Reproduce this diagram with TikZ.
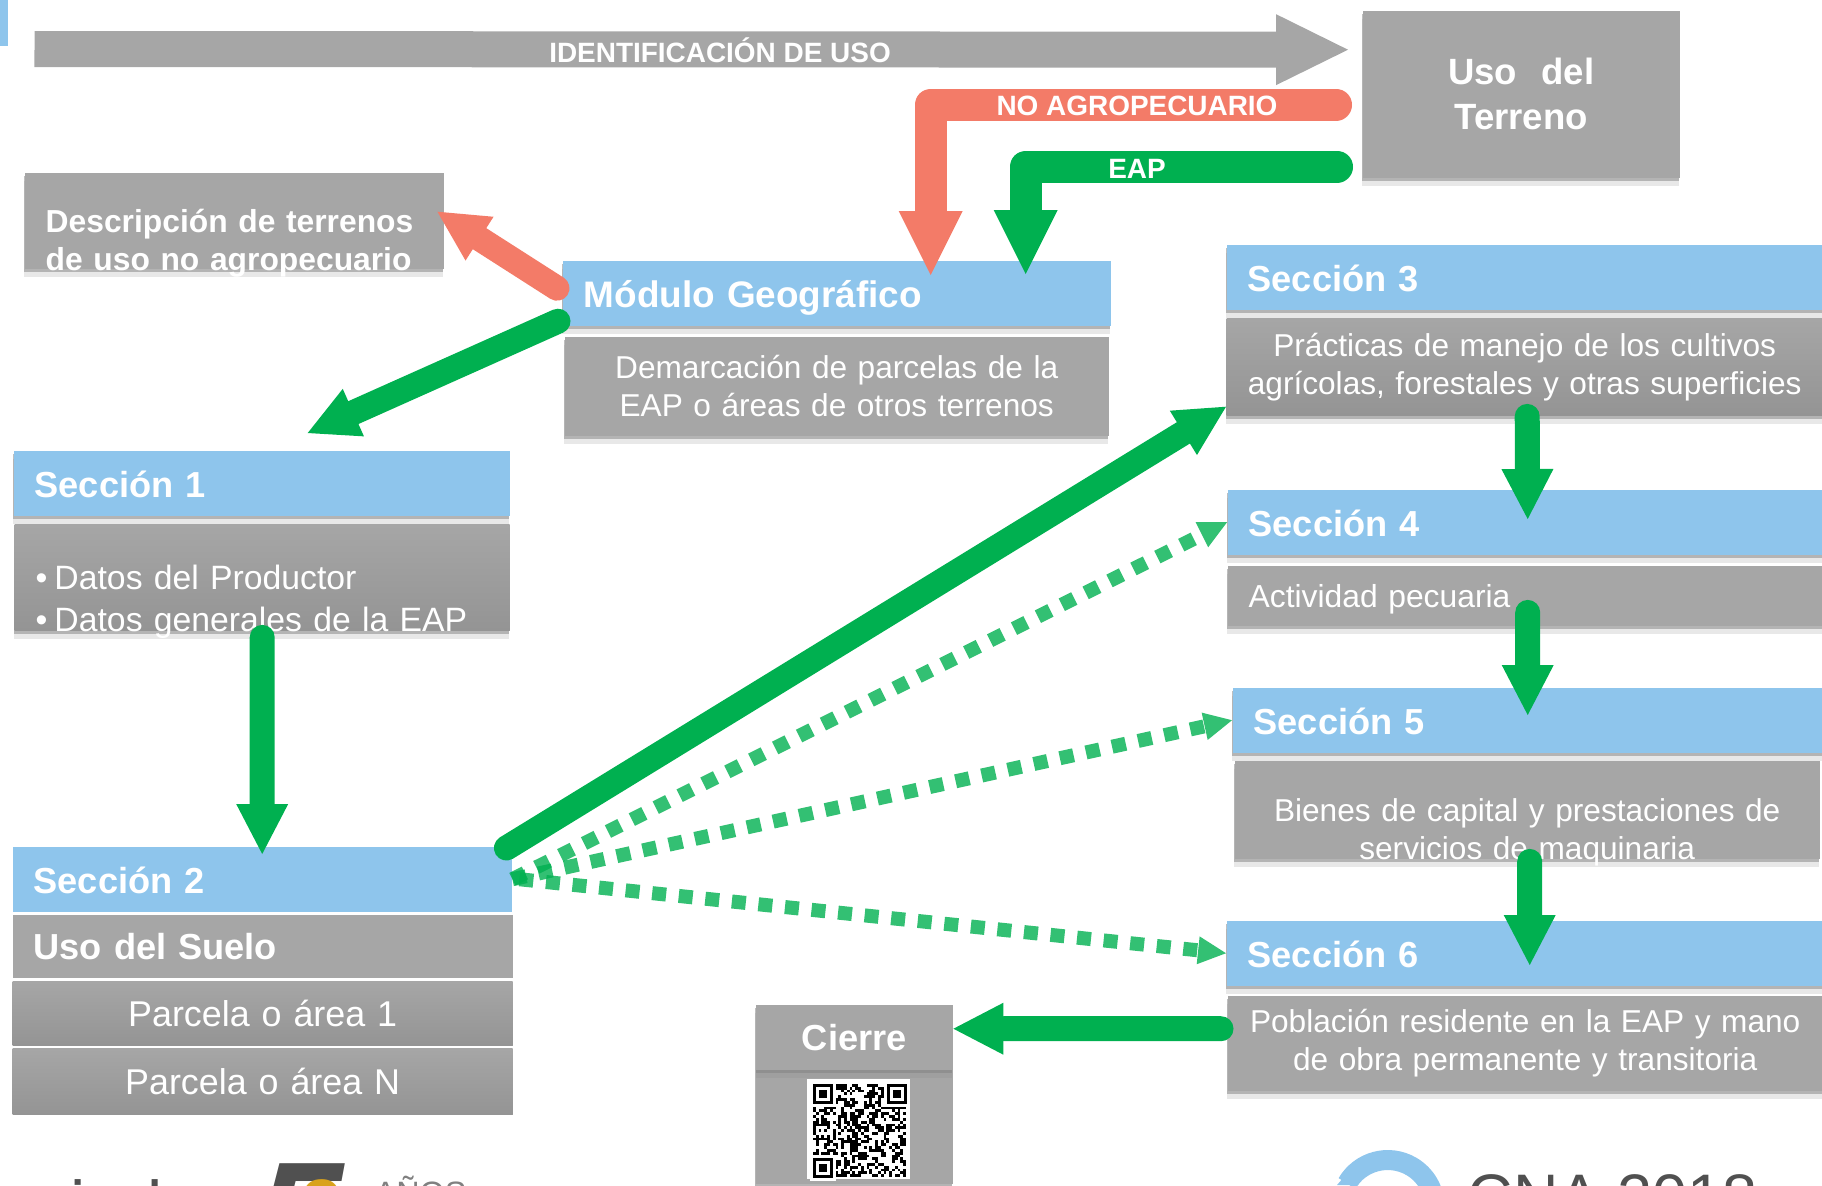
\documentclass[tikz,border=0pt]{standalone}
\usepackage{fontspec}
\setmainfont{Liberation Sans}
\usepackage{tikz}
\usetikzlibrary{arrows.meta}
\usetikzlibrary{shadows}
\definecolor{azul}{HTML}{8EC5EC}
\definecolor{gris}{HTML}{A6A6A6}
\definecolor{grisb}{HTML}{949494}
\definecolor{verde}{HTML}{00B050}
\definecolor{rojo}{HTML}{F37B68}
\definecolor{logo}{HTML}{505050}
\definecolor{oro}{HTML}{D9A21B}
\tikzset{
	sombra/.style={drop shadow={shadow xshift=-.01cm,shadow yshift=-.08cm,opacity=.18},drop shadow={shadow xshift=-.01cm,shadow yshift=-.035cm,opacity=.5}},
	cab/.style={anchor=north west,fill=azul,text=white,font=\fontsize{10.3}{12.5}\selectfont\bfseries,align=left,inner xsep=.21cm,inner ysep=0pt,minimum height=.65cm,text height=.28cm,text depth=0pt,text width=#1cm-.42cm},
	caja/.style={anchor=north west,fill=gris,text=white,font=\fontsize{9}{10.95}\selectfont,align=center,inner xsep=.03cm,inner ysep=0pt,text width=#1cm-.06cm},
	cajai/.style={caja=1,align=left,inner xsep=.21cm,text depth=0pt,text width=#1cm-.42cm},
	degr/.style={top color=gris,bottom color=grisb},
	flecha/.style={line width=.25cm,line cap=round,line join=round,color=verde,-{Triangle[length=.5cm,width=.52cm,line width=0pt]}},
	codo/.style={line width=.32cm,line cap=round,line join=round,-{Triangle[length=.64cm,width=.64cm,line width=0pt]}},
	punteada/.style={line width=.14cm,color=verde,opacity=.8,dash pattern=on .14cm off .127cm,-{Triangle[length=.28cm,width=.28cm,line width=0pt]}},
	rotulo/.style={text=white,font=\fontsize{7.95}{10}\selectfont\bfseries,inner sep=0pt}
}
\begin{document}
\begin{tikzpicture}
		\useasboundingbox (0,0) rectangle (18.22,-11.85);
		\clip (0,0) rectangle (18.22,-11.85);
		\fill[azul] (0,0) rectangle (.08,-.46);
		
		\node (terreno) [caja=3.17,sombra,minimum height=1.67cm,font=\fontsize{10.4}{12.9}\selectfont\bfseries] at (13.62,-.10) {Uso\ \ del\\Terreno};
		\node (desc) [cajai=4.19,sombra,minimum height=.96cm,font=\fontsize{9.05}{10.8}\selectfont\bfseries] at (.24,-1.72) {Descripción de terrenos\\de uso no agropecuario};
		
		\node (mod) [cab=5.48,sombra,font=\fontsize{10.5}{12.5}\selectfont\bfseries] at (5.62,-2.60) {Módulo Geográfico};
		\node (dat0) [caja=5.44,sombra,minimum height=.99cm] at (5.64,-3.36) {Demarcación de parcelas de la\\EAP o áreas de otros terrenos};
		
		\node (sec1) [cab=4.96,sombra] at (.13,-4.50) {Sección 1};
		\node (dat1) [cajai=4.95,sombra,degr,minimum height=1.06cm,font=\fontsize{9.6}{11.9}\selectfont] at (.14,-5.24) {\textbullet\hspace{.07cm}Datos del Productor\\\textbullet\hspace{.07cm}Datos generales de la EAP};
		
		\node (sec2) [cab=4.99] at (.12,-8.46) {Sección 2};
		\node (suelo) [cajai=5.00,minimum height=.63cm,font=\fontsize{10.3}{12.5}\selectfont\bfseries] at (.12,-9.14) {Uso del Suelo};
		\node (par1) [caja=5.00,degr,minimum height=.64cm,font=\fontsize{10.2}{12}\selectfont] at (.12,-9.81) {Parcela o área 1};
		\node (parn) [caja=5.00,degr,minimum height=.66cm,font=\fontsize{10.2}{12}\selectfont] at (.12,-10.48) {Parcela o área N};
		
		\node (sec3) [cab=5.96,sombra] at (12.26,-2.44) {Sección 3};
		\node (dat3) [caja=5.96,sombra,degr,minimum height=.97cm] at (12.26,-3.18) {Prácticas de manejo de los cultivos\\agrícolas, forestales y otras superficies};
		\node (sec4) [cab=5.95,sombra] at (12.27,-4.89) {Sección 4};
		\node (dat4) [cajai=5.95,sombra,minimum height=.60cm,font=\fontsize{9.05}{10.95}\selectfont] at (12.27,-5.65) {Actividad pecuaria};
		\node (sec5) [cab=5.90,sombra] at (12.32,-6.87) {Sección 5};
		\node (dat5) [caja=5.85,sombra,text depth=0pt,minimum height=.98cm] at (12.34,-7.60) {Bienes de capital y prestaciones de\\servicios de maquinaria};
		\node (sec6) [cab=5.96,sombra] at (12.26,-9.20) {Sección 6};
		\node (dat6) [caja=5.95,sombra,minimum height=.95cm] at (12.27,-9.95) {Población residente en la EAP y mano\\de obra permanente y transitoria};
		
		\node (qrfondo) [caja=1.97,sombra,minimum height=1.14cm] at (7.55,-10.69) {};
		\node (cierre) [caja=1.97,sombra,minimum height=.65cm,font=\fontsize{10.3}{12.5}\selectfont\bfseries] at (7.55,-10.04) {Cierre};
		\fill[white] (8.07,-10.79) rectangle (9.10,-11.79);
		\pgfmathsetseed{2018}
		\foreach \i in {0,...,32}
			\foreach \j in {0,...,32}{
				\pgfmathtruncatemacro{\bit}{random(0,1)}
				\ifnum\bit=1
					\fill[black] (8.13+.0282*\i,-10.84-.0282*\j) rectangle +(.0282,-.0282);
				\fi
			}
		\foreach \x/\y in {8.13/-10.84,8.87/-10.84,8.13/-11.58}{
			\fill[white] (\x-.03,\y+.03) rectangle +(.26,-.26);
			\fill[black] (\x,\y) rectangle +(.2,-.2);
			\fill[white] (\x+.03,\y-.03) rectangle +(.14,-.14);
			\fill[black] (\x+.06,\y-.06) rectangle +(.08,-.08);
		}
		
		\coordinate (ini) at (.345,-.49);
		\draw[line width=.36cm,color=gris,-{Triangle[length=.72cm,width=.71cm,line width=0pt]}] (ini) -- ([xshift=-.14cm,yshift=.445cm]terreno.west);
		\node (uso) [rotulo] at (7.20,-.50) {IDENTIFICACIÓN DE USO};
		
		\draw[codo,color=rojo] ([xshift=-.26cm,yshift=-.105cm]terreno.west) -| ([xshift=.94cm,yshift=-.15cm]mod.north);
		\node (noagro) [rotulo] at (11.37,-1.06) {NO AGROPECUARIO};
		\draw[codo,color=verde] ([xshift=-.25cm,yshift=-.725cm]terreno.west) -| ([xshift=1.89cm,yshift=-.14cm]mod.north);
		\node (eap) [rotulo] at (11.37,-1.69) {EAP};
		
		\draw[flecha,color=rojo] ([xshift=-.05cm,yshift=.05cm]mod.west) -- ([xshift=-.07cm,yshift=.09cm]desc.east);
		\draw[flecha] ([xshift=-.04cm,yshift=-.28cm]mod.west) -- ([xshift=.46cm,yshift=.17cm]sec1.north);
		\draw[flecha] ([yshift=-.06cm]dat1.south) -- ([yshift=-.08cm]sec2.north);
		\draw[flecha] ([xshift=-.06cm,yshift=-.02cm]sec2.north east) -- ([yshift=-.395cm]dat3.west);
		\draw[punteada] (sec2.east) -- (sec4.west);
		\draw[punteada] (sec2.east) -- (sec5.west);
		\draw[punteada] ([xshift=.07cm]sec2.east) -- (sec6.west);
		\draw[flecha] ([xshift=.025cm]dat3.south) -- ([xshift=.025cm,yshift=-.30cm]sec4.north);
		\draw[flecha] ([xshift=.025cm,yshift=.14cm]dat4.south) -- ([yshift=-.28cm]sec5.north);
		\draw[flecha] ([xshift=.025cm,yshift=-.02cm]dat5.south) -- ([xshift=.05cm,yshift=-.45cm]sec6.north);
		\draw[flecha] ([xshift=-.06cm,yshift=.145cm]dat6.west) -- ([yshift=.085cm]cierre.east);
		
		\node (indec) [anchor=base west,inner sep=0pt,text=logo,font=\fontsize{19.6}{21}\selectfont] at (.70,-12.29) {indec};
		\node (cinco) [anchor=base west,inner sep=0pt,text=logo,font=\fontsize{45}{47}\selectfont\bfseries\itshape] at (2.55,-12.72) {5};
		\node (cero) [anchor=base west,inner sep=0pt,text=oro,font=\fontsize{24}{26}\selectfont\bfseries] at (2.98,-12.38) {0};
		\node (anos) [anchor=base west,inner sep=0pt,text=gray,font=\fontsize{9.2}{11}\selectfont] at (3.74,-12.04) {AÑOS};
		\draw[line width=.20cm,color=azul] (13.47,-11.835) arc (150:0:.47);
		\fill[azul] (13.37,-11.85) -- (13.43,-11.78) -- (13.62,-11.78) -- (13.58,-11.85) -- cycle;
		\node (cna) [anchor=base west,inner sep=0pt,text=logo,font=\fontsize{17.9}{20}\selectfont] at (14.67,-12.18) {CNA 2018};
	\end{tikzpicture}
\end{document}
